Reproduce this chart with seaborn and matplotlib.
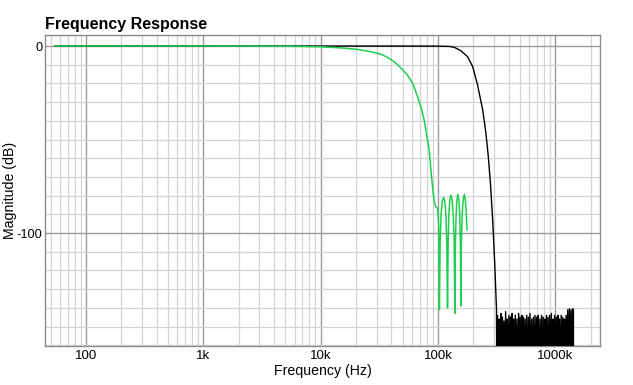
import numpy as np
import pandas as pd
import matplotlib
matplotlib.use("Agg")
import matplotlib.pyplot as plt
import matplotlib.ticker as mticker
import seaborn as sns

# ---- data ----
green_hz = [54, 1000, 5000, 10000, 15000, 20600, 26000, 32600, 37000, 42400,
            48000, 55000, 61000, 67000, 72000, 76400, 80000, 84300, 88300, 91000,
            93000, 96000, 99400, 101500, 103000,
            104500, 106500, 109000, 111800, 114500, 117000, 119000, 120800,
            122300, 124000, 126500, 129000, 132000, 135000, 137800, 139600,
            141000, 143000, 145500, 148000, 151000, 153500, 155500, 157000,
            158500, 161000, 164500, 168000, 171000, 174000, 177000]
green_db = [0, -0.01, -0.1, -0.4, -1.0, -1.8, -2.9, -4.3, -6.0, -8.4,
            -11.5, -15.5, -20.0, -27.0, -33.0, -39.6, -47.0, -55.6, -69.9, -78.0,
            -83.3, -86.0, -86.8, -95.0, -141.0,
            -105.0, -90.0, -83.0, -81.0, -83.0, -90.0, -105.0, -140.0,
            -105.0, -90.0, -82.0, -79.7, -82.0, -90.0, -105.0, -143.0,
            -105.0, -90.0, -82.0, -79.3, -82.0, -90.0, -105.0, -139.0,
            -105.0, -90.0, -82.0, -79.3, -82.0, -88.0, -98.4]

black_hz = [54, 1000, 10000, 50000, 100000, 125000, 138000, 157000, 179000, 198000,
            218000, 241000, 256000, 268000, 281000, 293000, 305000, 316000]
black_db = [0, 0, 0, 0, -0.05, -0.2, -0.7, -2.5, -5.7, -11.0,
            -20.9, -34.2, -46.0, -58.0, -74.0, -93.0, -116.0, -141.0]

noise_khz = [318, 323, 328, 333, 338, 344, 349, 355,
             360, 366, 372, 378, 384, 390, 396, 403,
             409, 416, 422, 429, 436, 443, 450, 457,
             465, 472, 480, 488, 495, 503, 512, 520,
             528, 537, 545, 554, 563, 572, 582, 591,
             601, 610, 620, 630, 641, 651, 662, 672,
             683, 694, 706, 717, 729, 741, 753, 765,
             777, 790, 803, 816, 829, 842, 856, 870,
             884, 898, 913, 928, 943, 958, 973, 989,
             1005, 1021, 1038, 1055, 1072, 1089, 1107, 1125,
             1143, 1161, 1180, 1199, 1219, 1239, 1259, 1279,
             1300, 1321, 1342, 1364, 1386, 1408, 1430, 1433]
noise_db = [-185, -144, -178, -146, -190, -143, -172, -145,
            -180, -147, -176, -142, -188, -146, -174, -144,
            -182, -145, -170, -143, -186, -146, -178, -144,
            -175, -146, -184, -143, -179, -145, -190, -144,
            -172, -145, -183, -146, -177, -144, -186, -145,
            -174, -143, -181, -146, -176, -145, -188, -144,
            -179, -145, -173, -144, -185, -146, -177, -144,
            -182, -145, -171, -146, -187, -144, -175, -145,
            -180, -144, -176, -143, -184, -146, -173, -144,
            -178, -145, -186, -144, -172, -146, -181, -144,
            -175, -145, -183, -146, -170, -144, -178, -141,
            -170, -140.5, -165, -141, -172, -140.5, -140.8, -195]

x_ticks = [100, 1000, 10000, 100000, 1000000]
x_labels = ["100", "1k", "10k", "100k", "1000k"]
y_ticks = [0, -100]
y_labels = ["0", "-100"]

# ---- build frames ----
df_green = pd.DataFrame({"f": green_hz, "db": green_db, "s": "filtered"})
df_black = pd.DataFrame({"f": black_hz + [k * 1000 for k in noise_khz],
                         "db": black_db + noise_db, "s": "original"})

sns.set_style("white")
plt.rcParams["font.family"] = ["Liberation Sans", "DejaVu Sans"]
plt.rcParams["text.color"] = "black"

fig = plt.figure(figsize=(6.33, 3.85), dpi=100)
ax = fig.add_axes([45 / 633, 1 - 346 / 385, 555 / 633, 311 / 385])

sns.lineplot(data=df_black, x="f", y="db", ax=ax, color="black", lw=1.0,
             estimator=None, sort=False, zorder=3)
sns.lineplot(data=df_green, x="f", y="db", ax=ax, color="#1ecf4f", lw=1.1,
             estimator=None, sort=False, zorder=4)

ax.set_xscale("log")
ax.set_xlim(44.7, 2.41e6)
ax.set_ylim(-160.4, 5.9)

ax.xaxis.set_major_locator(mticker.FixedLocator(x_ticks))
ax.xaxis.set_major_formatter(mticker.FixedFormatter(x_labels))
ax.xaxis.set_minor_locator(mticker.LogLocator(base=10, subs=np.arange(2, 10), numticks=20))
ax.xaxis.set_minor_formatter(mticker.NullFormatter())
ax.yaxis.set_major_locator(mticker.FixedLocator(y_ticks))
ax.yaxis.set_major_formatter(mticker.FixedFormatter(y_labels))
ax.yaxis.set_minor_locator(mticker.MultipleLocator(10))

ax.grid(which="minor", color="#d4d4d4", lw=0.9, zorder=0)
ax.grid(which="major", color="#9a9a9a", lw=1.0, zorder=1)
ax.set_axisbelow(True)

ax.tick_params(which="both", length=0, labelsize=9.5, colors="black", pad=3)
ax.tick_params(axis="y", labelsize=9.2, pad=2)
for sp in ax.spines.values():
    sp.set_color("#8c8c8c")
    sp.set_linewidth(1.0)

ax.set_xlabel("Frequency (Hz)", fontsize=10.2, color="black")
ax.xaxis.set_label_coords(0.5, -0.058)
ax.set_ylabel("Magnitude (dB)", fontsize=10.2, color="black")
ax.yaxis.set_label_coords(-0.05, 0.5)
ax.set_title("Frequency Response", loc="left", fontsize=11.5, fontweight="bold",
             pad=4, color="black")
if ax.get_legend():
    ax.get_legend().remove()

fig.savefig("out.png", dpi=100, facecolor="white")
